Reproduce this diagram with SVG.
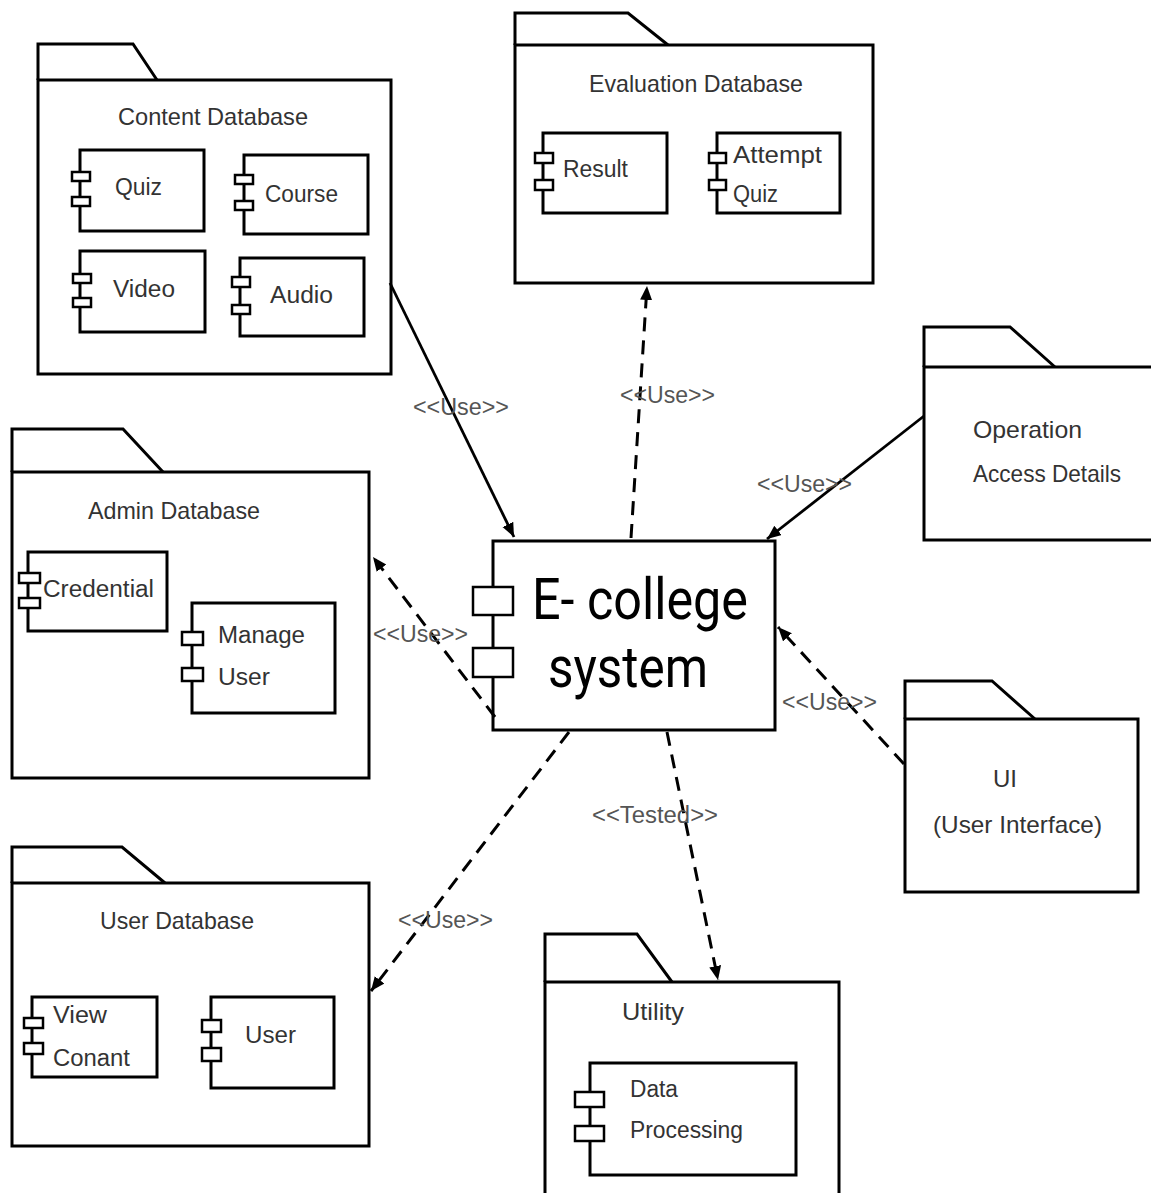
<svg xmlns="http://www.w3.org/2000/svg" width="1151" height="1193" viewBox="0 0 1151 1193">
<defs>
<marker id="ah" markerUnits="userSpaceOnUse" markerWidth="16" markerHeight="14" refX="14" refY="6" orient="auto">
<path d="M0,0 L14,6 L0,12 Z" fill="#000"/>
</marker>
<style>
.pkg{fill:#fff;stroke:#000;stroke-width:3}
.tab{fill:#fff;stroke:#000;stroke-width:3;stroke-linejoin:miter}
.cmp{fill:#fff;stroke:#000;stroke-width:3}
.port{fill:#fff;stroke:#000;stroke-width:2.5}
.t{font-family:"Liberation Sans",Arial,sans-serif;font-size:23px;fill:#333}
.title{font-family:"Liberation Sans",Arial,sans-serif;font-size:24px;fill:#333}
.lbl{font-family:"Liberation Sans",Arial,sans-serif;font-size:23px;fill:#555}
.big{font-family:Roboto,"Liberation Sans",sans-serif;font-size:58px;fill:#000}
.solid{stroke:#000;stroke-width:2.8;fill:none}
.dash{stroke:#000;stroke-width:3;fill:none;stroke-dasharray:14 9}
</style>
</defs>
<rect x="0" y="0" width="1151" height="1193" fill="#fff"/>

<g id="content-database">
<path class="tab" d="M38,80 V44 H133 L157,80"/>
<rect class="pkg" x="38" y="80" width="353" height="294"/>
<text class="title" x="118" y="125" textLength="190" lengthAdjust="spacingAndGlyphs">Content Database</text>
<g id="quiz"><rect class="cmp" x="80" y="150" width="124" height="81"/><rect class="port" x="72" y="172" width="18" height="9"/><rect class="port" x="72" y="197" width="18" height="9"/><text class="t" x="115" y="195" textLength="47" lengthAdjust="spacingAndGlyphs">Quiz</text></g>
<g id="course"><rect class="cmp" x="244" y="155" width="124" height="79"/><rect class="port" x="235" y="175" width="18" height="9"/><rect class="port" x="235" y="201" width="18" height="9"/><text class="t" x="265" y="202" textLength="73" lengthAdjust="spacingAndGlyphs">Course</text></g>
<g id="video"><rect class="cmp" x="80" y="251" width="125" height="81"/><rect class="port" x="73" y="274" width="18" height="9"/><rect class="port" x="73" y="298" width="18" height="9"/><text class="t" x="113" y="297" textLength="62" lengthAdjust="spacingAndGlyphs">Video</text></g>
<g id="audio"><rect class="cmp" x="240" y="258" width="124" height="78"/><rect class="port" x="232" y="277" width="18" height="10"/><rect class="port" x="232" y="305" width="18" height="9"/><text class="t" x="270" y="303" textLength="63" lengthAdjust="spacingAndGlyphs">Audio</text></g>
</g>

<g id="evaluation-database">
<path class="tab" d="M515,45 V13 H628 L668,45"/>
<rect class="pkg" x="515" y="45" width="358" height="238"/>
<text class="title" x="589" y="92" textLength="214" lengthAdjust="spacingAndGlyphs">Evaluation Database</text>
<g id="result"><rect class="cmp" x="543" y="133" width="124" height="80"/><rect class="port" x="535" y="153" width="18" height="10"/><rect class="port" x="535" y="180" width="18" height="10"/><text class="t" x="563" y="177" textLength="65" lengthAdjust="spacingAndGlyphs">Result</text></g>
<g id="attempt-quiz"><rect class="cmp" x="717" y="133" width="123" height="80"/><rect class="port" x="709" y="153" width="17" height="10"/><rect class="port" x="709" y="180" width="17" height="10"/><text class="t" x="733" y="163" textLength="89" lengthAdjust="spacingAndGlyphs">Attempt</text><text class="t" x="733" y="202" textLength="45" lengthAdjust="spacingAndGlyphs">Quiz</text></g>
</g>

<g id="admin-database">
<path class="tab" d="M12,472 V429 H123 L163,472"/>
<rect class="pkg" x="12" y="472" width="357" height="306"/>
<text class="title" x="88" y="519" textLength="172" lengthAdjust="spacingAndGlyphs">Admin Database</text>
<g id="credential"><rect class="cmp" x="28" y="552" width="139" height="79"/><rect class="port" x="19" y="573" width="21" height="10"/><rect class="port" x="19" y="598" width="21" height="10"/><text class="t" x="43" y="597" textLength="111" lengthAdjust="spacingAndGlyphs">Credential</text></g>
<g id="manage-user"><rect class="cmp" x="192" y="603" width="143" height="110"/><rect class="port" x="182" y="632" width="21" height="13"/><rect class="port" x="182" y="668" width="21" height="13"/><text class="t" x="218" y="643" textLength="87" lengthAdjust="spacingAndGlyphs">Manage</text><text class="t" x="218" y="685" textLength="52" lengthAdjust="spacingAndGlyphs">User</text></g>
</g>

<g id="user-database">
<path class="tab" d="M12,883 V847 H122 L165,883"/>
<rect class="pkg" x="12" y="883" width="357" height="263"/>
<text class="title" x="100" y="929" textLength="154" lengthAdjust="spacingAndGlyphs">User Database</text>
<g id="view-conant"><rect class="cmp" x="32" y="997" width="125" height="80"/><rect class="port" x="24" y="1018" width="19" height="10"/><rect class="port" x="24" y="1043" width="19" height="11"/><text class="t" x="53" y="1023" textLength="54" lengthAdjust="spacingAndGlyphs">View</text><text class="t" x="53" y="1066" textLength="77" lengthAdjust="spacingAndGlyphs">Conant</text></g>
<g id="user"><rect class="cmp" x="211" y="997" width="123" height="91"/><rect class="port" x="202" y="1020" width="19" height="12"/><rect class="port" x="202" y="1048" width="19" height="13"/><text class="t" x="245" y="1043" textLength="51" lengthAdjust="spacingAndGlyphs">User</text></g>
</g>

<g id="utility">
<path class="tab" d="M545,982 V934 H637 L672,982"/>
<rect class="pkg" x="545" y="982" width="294" height="230"/>
<text class="title" x="622" y="1020" textLength="62" lengthAdjust="spacingAndGlyphs">Utility</text>
<g id="data-processing"><rect class="cmp" x="590" y="1063" width="206" height="112"/><rect class="port" x="575" y="1092" width="29" height="15"/><rect class="port" x="575" y="1126" width="29" height="15"/><text class="t" x="630" y="1097" textLength="48" lengthAdjust="spacingAndGlyphs">Data</text><text class="t" x="630" y="1138" textLength="113" lengthAdjust="spacingAndGlyphs">Processing</text></g>
</g>

<g id="operation-access-details">
<path class="tab" d="M924,367 V327 H1010 L1055,367"/>
<rect class="pkg" x="924" y="367" width="240" height="173"/>
<text class="title" x="973" y="438" textLength="109" lengthAdjust="spacingAndGlyphs">Operation</text>
<text class="title" x="973" y="482" textLength="148" lengthAdjust="spacingAndGlyphs">Access Details</text>
</g>

<g id="ui">
<path class="tab" d="M905,719 V681 H992 L1035,719"/>
<rect class="pkg" x="905" y="719" width="233" height="173"/>
<text class="title" x="993" y="787" textLength="24" lengthAdjust="spacingAndGlyphs">UI</text>
<text class="title" x="933" y="833" textLength="169" lengthAdjust="spacingAndGlyphs">(User Interface)</text>
</g>

<g id="e-college-system">
<rect class="cmp" x="493" y="541" width="282" height="189"/>
<rect class="port" x="473" y="587" width="40" height="28"/>
<rect class="port" x="473" y="648" width="40" height="29"/>
<text class="big" x="532" y="619" textLength="216" lengthAdjust="spacingAndGlyphs">E- college</text>
<text class="big" x="548" y="687" textLength="160" lengthAdjust="spacingAndGlyphs">system</text>
</g>

<g id="connectors">
<line class="solid" x1="390" y1="283" x2="514" y2="537" marker-end="url(#ah)"/>
<line class="dash" x1="631" y1="538" x2="647" y2="286" marker-end="url(#ah)"/>
<line class="solid" x1="924" y1="416" x2="767" y2="539" marker-end="url(#ah)"/>
<line class="dash" x1="495" y1="717" x2="373" y2="557" marker-end="url(#ah)"/>
<line class="dash" x1="904" y1="764" x2="778" y2="627" marker-end="url(#ah)"/>
<line class="dash" x1="569" y1="732" x2="371" y2="991" marker-end="url(#ah)"/>
<line class="dash" x1="667" y1="732" x2="718" y2="980" marker-end="url(#ah)"/>
<text class="lbl" x="413" y="415" textLength="96" lengthAdjust="spacingAndGlyphs">&lt;&lt;Use&gt;&gt;</text>
<text class="lbl" x="620" y="403" textLength="95" lengthAdjust="spacingAndGlyphs">&lt;&lt;Use&gt;&gt;</text>
<text class="lbl" x="757" y="492" textLength="95" lengthAdjust="spacingAndGlyphs">&lt;&lt;Use&gt;&gt;</text>
<text class="lbl" x="373" y="642" textLength="95" lengthAdjust="spacingAndGlyphs">&lt;&lt;Use&gt;&gt;</text>
<text class="lbl" x="782" y="710" textLength="95" lengthAdjust="spacingAndGlyphs">&lt;&lt;Use&gt;&gt;</text>
<text class="lbl" x="398" y="928" textLength="95" lengthAdjust="spacingAndGlyphs">&lt;&lt;Use&gt;&gt;</text>
<text class="lbl" x="592" y="823" textLength="126" lengthAdjust="spacingAndGlyphs">&lt;&lt;Tested&gt;&gt;</text>
</g>
</svg>
